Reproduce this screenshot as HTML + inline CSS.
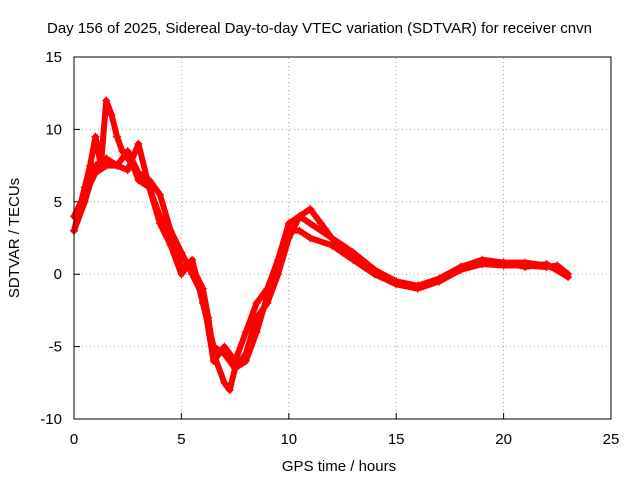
<!DOCTYPE html>
<html><head><meta charset="utf-8"><style>
html,body{margin:0;padding:0;background:#fff;}
svg text{font-family:"Liberation Sans",Arial,sans-serif;font-size:15px;fill:#000;}
</style></head><body>
<svg id="chart" width="640" height="480" viewBox="0 0 640 480">
<text x="47" y="33">Day 156 of 2025, Sidereal Day-to-day VTEC variation (SDTVAR) for receiver cnvn</text>
<g id="grid"></g>
<g id="axes"></g>
<g id="series"></g>
<rect x="74" y="57" width="537" height="362" fill="none" stroke="#000" stroke-width="1"/>
<text x="339" y="471" text-anchor="middle">GPS time / hours</text>
<text transform="translate(19,238) rotate(-90)" text-anchor="middle">SDTVAR / TECUs</text>
</svg>
<script>
const xTicks=[0,5,10,15,20,25];
const yTicks=[-10,-5,0,5,10,15];
const timesA=[0,0.25,0.5,0.75,1,1.25,1.5,1.75,2,2.25,2.5,2.75,3,3.5,4,4.5,5,5.5,6,6.25,6.5,7,7.25,7.5,8,8.5,9,9.5,10,10.5,11,11.5,12,12.5,13,14,15,16,17,18,19,20,21,22,22.5,23];
const valuesA=[3,4.5,6,7.5,9.5,7.5,12,11,9.5,8.5,8,7.5,6.5,6,4,2.5,0.5,0.5,-1,-3,-5.5,-7.5,-8,-6.5,-5.5,-3,-2,0,2.5,4,4.5,3.5,2.5,1.5,1,0,-0.5,-0.8,-0.5,0.3,0.7,0.6,0.6,0.5,0.6,0];
const timesB=[0,0.5,1,1.5,2,2.5,3,3.5,4,4.5,5,5.5,6,6.5,7,7.5,8,8.5,9,9.5,10,10.5,11,12,13,14,15,16,17,18,19,20,21,22,23];
const valuesB=[4,5.5,7,7.5,7.5,7.2,9,6,3.5,2,0,1,-2,-5,-5.5,-6.5,-6,-4,-1.5,0.5,3,3,2.5,2,1,0,-0.7,-1,-0.5,0.5,0.8,0.8,0.5,0.7,-0.2];
const timesC=[0,0.5,1,1.5,2,2.5,3,3.5,4,4.5,5,5.5,6,6.5,7,7.5,8,8.5,9,9.5,10,10.5,11,12,13,14,15,16,17,18,19,20,21,22,23];
const valuesC=[3,5,7.5,8,7.5,8.5,7,6.5,5.5,3,1.5,0,-1.5,-6,-5,-6,-4,-2,-1,1,3.5,4,3.5,2.5,1.5,0.3,-0.5,-0.8,-0.3,0.5,1,0.8,0.8,0.6,0];

const NS='http://www.w3.org/2000/svg';
const X0=74,X1=611,Y0=419,Y1=57;
function xs(v){return X0+(v-0)/(25-0)*(X1-X0);}
function ys(v){return Y0-(v+10)/(15+10)*(Y0-Y1);}
function mk(tag,attrs,parent){const e=document.createElementNS(NS,tag);for(const k in attrs)e.setAttribute(k,attrs[k]);parent.appendChild(e);return e;}
const grid=document.getElementById('grid'),axes=document.getElementById('axes'),ser=document.getElementById('series');
xTicks.forEach(t=>{
  const x=xs(t);
  if(t>0&&t<25){const g=mk('line',{x1:x,x2:x,y1:Y0,y2:Y1,stroke:'#a0a0a0','stroke-dasharray':'1,3'},grid);
  
  }
  const tk=mk('line',{x1:x,x2:x,y1:Y0,y2:Y0-6,stroke:'#000'},axes);
  
  
  const lb=mk('text',{x:x,y:Y0+25,'text-anchor':'middle'},axes);lb.textContent=t;
  
  
});
yTicks.forEach(t=>{
  const y=ys(t);
  if(t>-10&&t<15){const g=mk('line',{x1:X0,x2:X1,y1:y,y2:y,stroke:'#a0a0a0','stroke-dasharray':'1,3'},grid);
  
  }
  const tk=mk('line',{x1:X0,x2:X0+6,y1:y,y2:y,stroke:'#000'},axes);
  
  
  const lb=mk('text',{x:X0-12,y:y+5,'text-anchor':'end'},axes);lb.textContent=t;
  
  
});
function drawSeries(times,vals,name){
  const pts=times.map((t,i)=>xs(t)+','+ys(vals[i])).join(' ');
  const pl=mk('polyline',{points:pts,fill:'none',stroke:'#ff0000','stroke-width':6,'stroke-linejoin':'round','stroke-linecap':'round'},ser);
  
  
  times.forEach((t,i)=>{
    const x=xs(t),y=ys(vals[i]);
    const p=mk('path',{d:`M${x-4},${y}H${x+4}M${x},${y-4}V${y+4}`,stroke:'#ff0000','stroke-width':1.2},ser);
    
    
  });
}
drawSeries(timesA,valuesA,'series-a');
drawSeries(timesB,valuesB,'series-b');
drawSeries(timesC,valuesC,'series-c');
</script>
</body></html>
